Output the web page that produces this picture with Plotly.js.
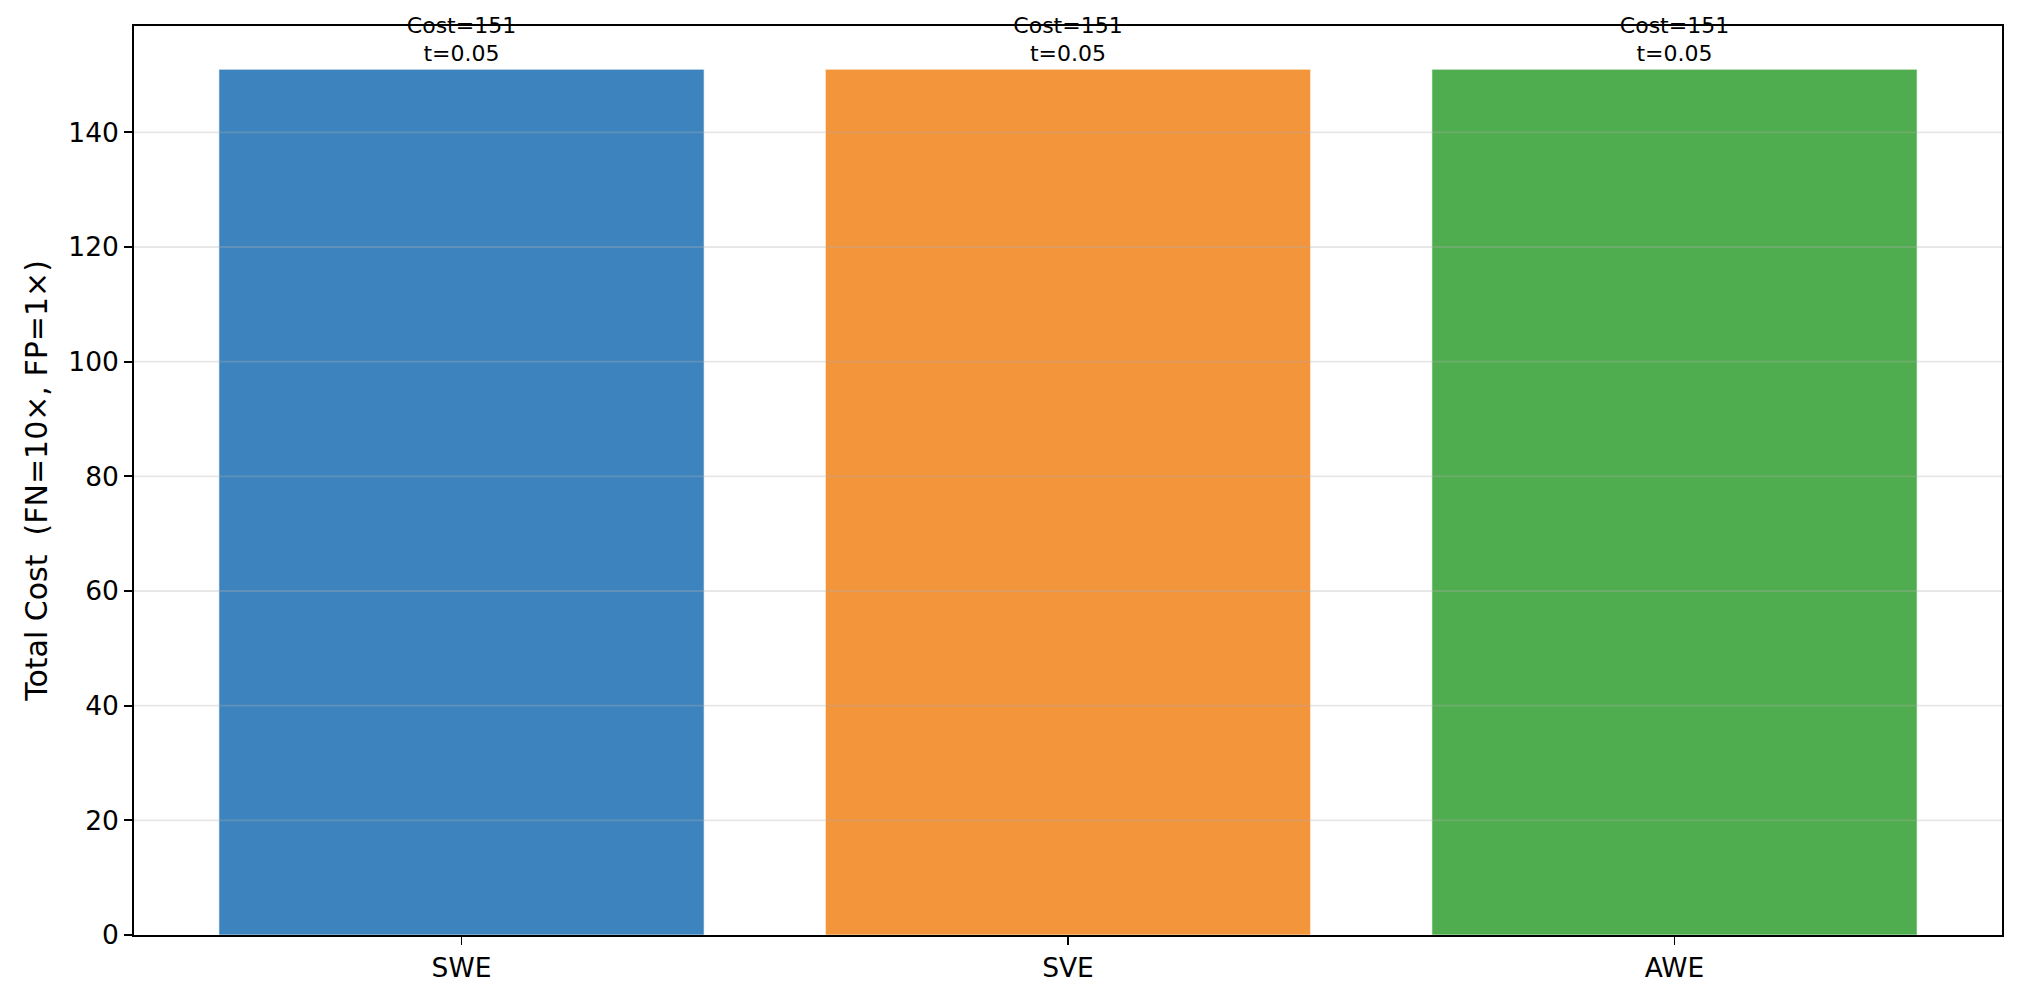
<!DOCTYPE html>
<html>
<head>
<meta charset="utf-8">
<script src="https://cdn.plot.ly/plotly-3.0.1.min.js"></script>
<style>html,body{margin:0;padding:0;background:#fff;}</style>
</head>
<body>
<div id="chart" style="width:2028px;height:989px;"></div>
<script>
// Data
const methods = ["SWE", "SVE", "AWE"];
const totalCost = [151, 151, 151];
const thresholds = [0.05, 0.05, 0.05];
const barColors = ["#3d84bf", "#f3953b", "#4fad4f"];
const yTickVals = [0, 20, 40, 60, 80, 100, 120, 140];
const yTitle = "Total Cost  (FN=10×, FP=1×)";

const labels = totalCost.map((c, i) => "Cost=" + c + "<br>t=" + thresholds[i].toFixed(2));
const xIdx = methods.map((m, i) => i);

const trace = {
  type: "bar",
  x: xIdx,
  y: totalCost,
  width: 0.8,
  marker: {color: barColors, line: {color: "rgba(255,255,255,0.6)", width: 1}},
  text: labels,
  textposition: "outside",
  textfont: {family: "DejaVu Sans", size: 22, color: "#000"},
  constraintext: "none",
  cliponaxis: false,
  hoverinfo: "none",
  showlegend: false
};

const yMax = Math.max(...totalCost) * 1.05;

const gridShapes = yTickVals.filter(v => v > 0).map(v => ({
  type: "line", xref: "paper", yref: "y", x0: 0, x1: 1, y0: v, y1: v,
  line: {color: "rgba(176,176,176,0.3)", width: 1.8}, layer: "above"
}));

const tickFont = {family: "DejaVu Sans", size: 26.5, color: "#000"};

const layout = {
  width: 2028, height: 989,
  margin: {l: 134, r: 26, t: 26, b: 54},
  paper_bgcolor: "#fff", plot_bgcolor: "#fff",
  font: {family: "DejaVu Sans", size: 26, color: "#000"},
  bargap: 0.2,
  xaxis: {
    range: [-0.54, 2.54],
    tickmode: "array", tickvals: xIdx, ticktext: methods,
    showgrid: false, zeroline: false,
    showline: true, mirror: true, linecolor: "#000", linewidth: 1.8,
    ticks: "outside", ticklen: 8, tickwidth: 1.8, tickcolor: "#000",
    tickfont: tickFont
  },
  yaxis: {
    range: [0, yMax],
    tickmode: "array", tickvals: yTickVals,
    showgrid: false, zeroline: false,
    showline: true, mirror: true, linecolor: "#000", linewidth: 1.8,
    ticks: "outside", ticklen: 8, tickwidth: 1.8, tickcolor: "#000",
    tickfont: tickFont,
    title: {text: yTitle, font: {family: "DejaVu Sans", size: 30, color: "#000"}, standoff: 12}
  },
  shapes: gridShapes
};

Plotly.newPlot("chart", [trace], layout, {displayModeBar: false, staticPlot: true});
</script>
</body>
</html>
